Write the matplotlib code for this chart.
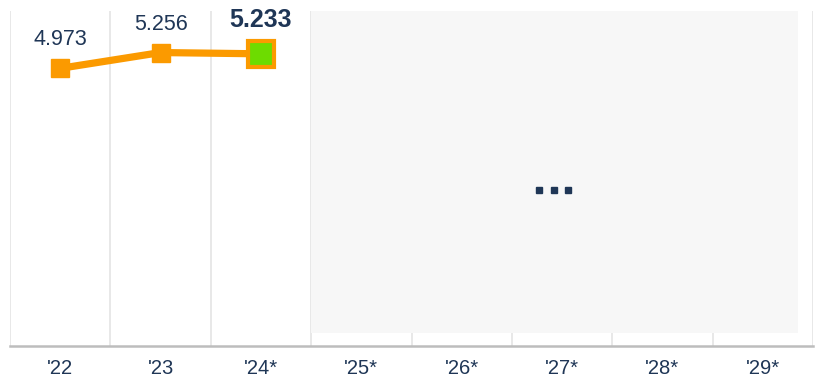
import numpy as np
import matplotlib
matplotlib.use("Agg")
import matplotlib.pyplot as plt

plt.rcParams['font.family'] = ['Liberation Sans', 'DejaVu Sans']

years = ["'22", "'23", "'24*", "'25*", "'26*", "'27*", "'28*", "'29*"]
values = [4.973, 5.256, 5.233]
value_labels = ["4.973", "5.256", "5.233"]

orange = '#fb9a00'
green = '#6ddc00'
navy = '#1f3656'

fig = plt.figure(figsize=(8.18, 3.80), dpi=100)
ax = fig.add_axes([10 / 818, 34 / 380, 803 / 818, 335 / 380])

x = np.arange(len(years))
xv = x[:len(values)]

ax.set_xlim(-0.5, len(years) - 0.5)
ax.set_ylim(0, 6)

# column separators, kept underneath everything else
ax.set_axisbelow(True)
ax.set_xticks(np.arange(len(years) + 1) - 0.5, minor=True)
ax.grid(True, which='minor', axis='x', color='#e4e4e4', linewidth=1.2)
ax.grid(False, which='major')
ax.tick_params(which='minor', length=0)

# forecast area placeholder with "..." marker
ax.axvspan(len(values) - 0.5, 7.35, ymin=0.04, ymax=1.0, color='#f7f7f7', zorder=1, lw=0)
ax.plot([0.659, 0.677, 0.695], [0.466, 0.466, 0.466], 's', ms=4.6, color=navy,
        transform=ax.transAxes, zorder=3, ls='none')

ax.plot(xv, values, color=orange, lw=5.2, zorder=4, solid_capstyle='butt')
ax.plot(xv[:-1], values[:-1], 's', ms=13.5, color=orange, zorder=5)
ax.plot(xv[-1:], values[-1:], 's', ms=19, mfc=green, mec=orange, mew=3, zorder=6)

for i, (xi, v, lab) in enumerate(zip(xv, values, value_labels)):
    last = i == len(values) - 1
    ax.annotate(lab, (xi, v), xytext=(0, 19.5 if last else 16.5), textcoords='offset points',
                ha='center', va='baseline', color=navy,
                fontsize=18 if last else 15.5, fontweight='bold' if last else 'normal',
                zorder=7, annotation_clip=False)

ax.set_xticks(x)
ax.set_xticklabels(years)
ax.tick_params(axis='x', which='major', length=0, pad=9, labelsize=14.5, labelcolor=navy)
ax.set_yticks([])

for side in ['top', 'right', 'left']:
    ax.spines[side].set_visible(False)
ax.spines['bottom'].set_color('#bdbdbd')
ax.spines['bottom'].set_linewidth(1.8)
ax.spines['bottom'].set_zorder(8)

fig.savefig('out.png', dpi=100)
